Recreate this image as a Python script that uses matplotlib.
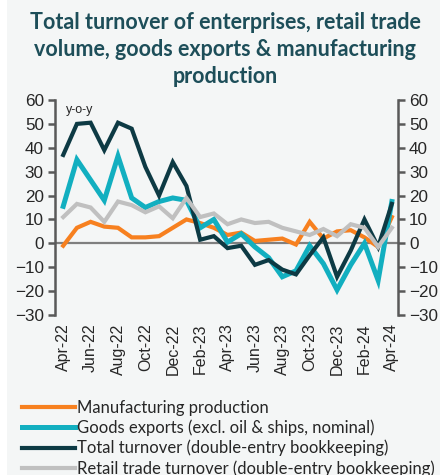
import numpy as np
import matplotlib
matplotlib.use("Agg")
import matplotlib.pyplot as plt
from matplotlib.patches import Rectangle

months = ["Apr-22", "May-22", "Jun-22", "Jul-22", "Aug-22", "Sep-22", "Oct-22", "Nov-22",
          "Dec-22", "Jan-23", "Feb-23", "Mar-23", "Apr-23", "May-23", "Jun-23", "Jul-23",
          "Aug-23", "Sep-23", "Oct-23", "Nov-23", "Dec-23", "Jan-24", "Feb-24", "Mar-24",
          "Apr-24"]

manufacturing = [-1, 6.5, 9, 7, 6.5, 2.5, 2.5, 3, 6.5, 10, 8.5, 6.5, 3.5, 4.5, 1, 1.5,
                 2, -0.5, 9, 2, 5, 5.5, 2.5, -1.5, 11]
goods_exports = [15.5, 35, 26.5, 18, 36.5, 19, 15, 17.5, 19, 18, 6.5, 10, 0.5, 4, -1.5, -6,
                 -14, -11.5, -1, -8.5, -19.5, -9, 0, -15.5, 17.5]
total_turnover = [37, 50, 50.5, 39, 50.5, 48, 32, 20, 34, 24, 1.5, 3, -2, -1, -9, -7,
                  -11, -13, -5, 2.5, -14, -3, 10, -1.5, 16.5]
retail_trade = [11, 16.5, 15, 9, 17.5, 16, 13, 15.5, 10.5, 19, 11, 12.5, 8, 10, 8.5, 9,
                6.5, 5, 3.5, 6, 3, 8, 6.5, -1.5, 6.5]

labels = ["Manufacturing production",
          "Goods exports (excl. oil & ships, nominal)",
          "Total turnover (double-entry bookkeeping)",
          "Retail trade turnover (double-entry bookkeeping)"]
colors = ["#F7801F", "#12AFC0", "#0D3A44", "#C0C0C0"]
widths = [3.0, 3.6, 3.0, 3.0]

bg = "#F4F6F6"
spine_col = "#595959"
tick_font = "Liberation Sans"
text_font = "Lato"

fig = plt.figure(figsize=(4.4, 4.75), dpi=100, facecolor=bg)
fig.patches.append(Rectangle((0, 0), 7 / 440, 1, transform=fig.transFigure,
                             facecolor="white", edgecolor="none", zorder=0))

ax = fig.add_axes([55 / 440, 1 - 315 / 475, (398 - 55) / 440, (315 - 100) / 475])
ax.set_facecolor(bg)

x = np.arange(len(months))
ax.axhline(0, color="#7F7F7F", lw=1.6, zorder=1)
series = [manufacturing, goods_exports, total_turnover, retail_trade]
for vals, lab, col, lw in zip(series, labels, colors, widths):
    ax.plot(x, vals, color=col, lw=lw, label=lab, solid_joinstyle="miter", zorder=2)

ax.set_xlim(-0.6, 24.45)
ax.set_ylim(-30, 60)
ax.set_yticks(np.arange(-30, 61, 10))
ax.set_xticks(x[::2])
ax.set_xticklabels(months[::2], rotation=90, fontsize=11.5, family=tick_font)
ax.tick_params(axis="x", length=0, pad=6, colors="#262626")

for side in ["top", "bottom"]:
    ax.spines[side].set_visible(False)
for side in ["left", "right"]:
    ax.spines[side].set_color(spine_col)
    ax.spines[side].set_linewidth(1.8)

ax.tick_params(axis="y", which="both", left=True, right=True, labelleft=True,
               labelright=True, length=5, width=1.8, color=spine_col,
               labelsize=12.3, labelcolor="#262626", pad=3)
for t in ax.get_yticklabels():
    t.set_family(tick_font)

ax.text(0.2, 58.5, "y-o-y", fontsize=9, family=tick_font, color="#262626", va="top")

fig.text(0.512, 0.974, "Total turnover of enterprises, retail trade\nvolume, goods exports & manufacturing\nproduction",
         ha="center", va="top", fontsize=15.5, fontweight="bold", family=text_font,
         color="#1D4E59", linespacing=1.34)

fig.legend(loc="upper left", bbox_to_anchor=(0.035, 0.172), frameon=False,
           prop={"family": text_font, "size": 12}, handlelength=3.2,
           handletextpad=0.1, labelspacing=0.22, borderaxespad=0,
           labelcolor="#262626")

fig.savefig("out.png", dpi=100, facecolor=bg)
